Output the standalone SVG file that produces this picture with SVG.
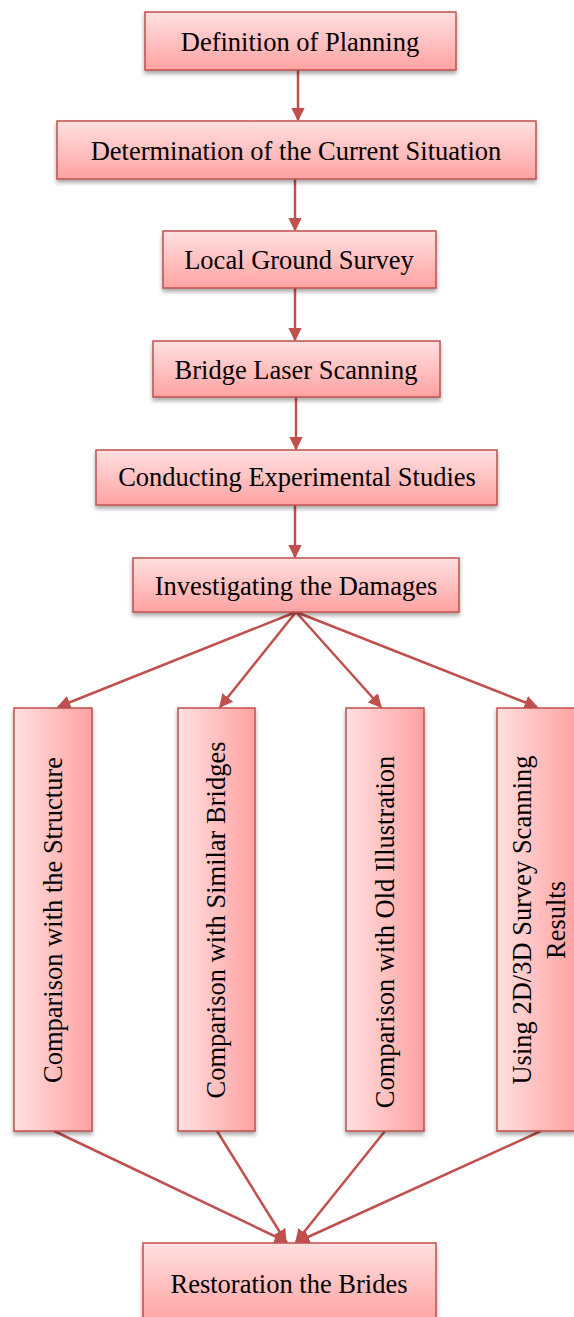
<svg xmlns="http://www.w3.org/2000/svg" width="574" height="1317" viewBox="0 0 574 1317">
<defs>
<linearGradient id="gv" x1="0" y1="0" x2="0" y2="1"><stop offset="0" stop-color="#FFE0E0"/><stop offset="1" stop-color="#FFA2A2"/></linearGradient>
<linearGradient id="gh" x1="0" y1="0" x2="1" y2="0"><stop offset="0" stop-color="#FFE0E0"/><stop offset="1" stop-color="#FFA2A2"/></linearGradient>
<filter id="sh" x="-20%" y="-20%" width="140%" height="140%"><feDropShadow dx="0" dy="3" stdDeviation="2" flood-color="#000" flood-opacity="0.35"/></filter>
<marker id="ah" viewBox="0 0 10 10" refX="9" refY="5" markerWidth="5.5" markerHeight="5.5" markerUnits="strokeWidth" orient="auto"><path d="M0,0 L10,5 L0,10 z" fill="#C0504D"/></marker>
<style>
.b{stroke:#C0504D;stroke-width:1.5;filter:url(#sh)}
.h{fill:url(#gv)}
.v{fill:url(#gh)}
text{font-family:"Liberation Serif","Times New Roman",serif;font-size:26.5px;fill:#000;text-anchor:middle}
.c line{stroke:#C0504D;stroke-width:2.5;marker-end:url(#ah)}
</style>
</defs>
<g class="c" id="connectors">
<line x1="298" y1="70" x2="298" y2="120"/>
<line x1="295" y1="179" x2="295" y2="230"/>
<line x1="295" y1="288" x2="295" y2="340"/>
<line x1="296" y1="397" x2="296" y2="449"/>
<line x1="295" y1="505" x2="295" y2="557"/>
<line x1="296" y1="612" x2="58" y2="707"/>
<line x1="296" y1="612" x2="220" y2="707"/>
<line x1="296" y1="612" x2="381" y2="707"/>
<line x1="296" y1="612" x2="537" y2="707"/>
<line x1="54" y1="1131" x2="287" y2="1242"/>
<line x1="217" y1="1131" x2="286" y2="1242"/>
<line x1="385" y1="1131" x2="296" y2="1242"/>
<line x1="541" y1="1131" x2="297" y2="1242"/>
</g>
<g id="n1"><rect class="b h" x="145" y="12" width="311" height="58"/><text x="300" y="51">Definition of Planning</text></g>
<g id="n2"><rect class="b h" x="57" y="121" width="479" height="58"/><text x="296" y="160">Determination of the Current Situation</text></g>
<g id="n3"><rect class="b h" x="163" y="231" width="273" height="57"/><text x="299" y="269">Local Ground Survey</text></g>
<g id="n4"><rect class="b h" x="153" y="341" width="287" height="56"/><text x="296" y="379">Bridge Laser Scanning</text></g>
<g id="n5"><rect class="b h" x="96" y="450" width="401" height="55"/><text x="297" y="486">Conducting Experimental Studies</text></g>
<g id="n6"><rect class="b h" x="133" y="558" width="326" height="54"/><text x="296" y="595">Investigating the Damages</text></g>
<g id="n7"><rect class="b v" x="14" y="708" width="78" height="423"/><text transform="rotate(-90 53 920)" x="53" y="920" dominant-baseline="central">Comparison with the Structure</text></g>
<g id="n8"><rect class="b v" x="178" y="708" width="77" height="423"/><text transform="rotate(-90 216 920)" x="216" y="920" dominant-baseline="central">Comparison with Similar Bridges</text></g>
<g id="n9"><rect class="b v" x="346" y="708" width="78" height="423"/><text transform="rotate(-90 385 932)" x="385" y="932" dominant-baseline="central">Comparison with Old Illustration</text></g>
<g id="n10"><rect class="b v" x="497" y="708" width="78" height="423"/><text transform="rotate(-90 522 920)" x="522" y="920" dominant-baseline="central">Using 2D/3D Survey Scanning</text><text transform="rotate(-90 556 920)" x="556" y="920" dominant-baseline="central">Results</text></g>
<g id="n11"><rect class="b h" x="143" y="1243" width="293" height="80"/><text x="289" y="1293">Restoration the Brides</text></g>
</svg>
